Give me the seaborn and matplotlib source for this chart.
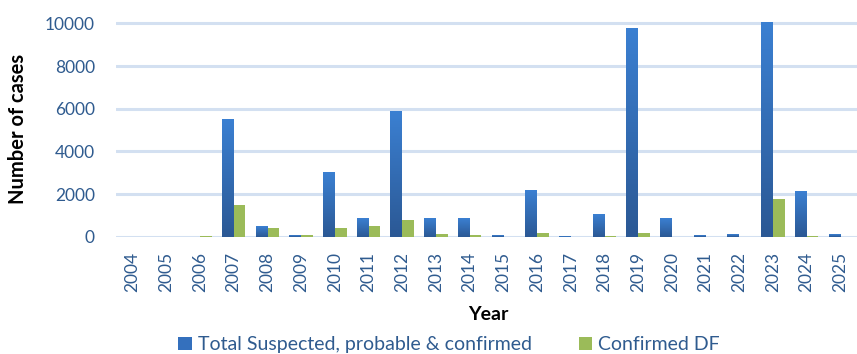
import numpy as np
import pandas as pd
import matplotlib
matplotlib.use("Agg")
import matplotlib.pyplot as plt
import seaborn as sns
from matplotlib.patches import Patch

years = ["2004", "2005", "2006", "2007", "2008", "2009", "2010", "2011", "2012", "2013", "2014",
         "2015", "2016", "2017", "2018", "2019", "2020", "2021", "2022", "2023", "2024", "2025"]
total_cases = [10, 10, 15, 5520, 500, 80, 3040, 880, 5900, 880, 880,
               80, 2190, 30, 1060, 9800, 880, 80, 125, 10050, 2150, 125]
confirmed_df = [10, 10, 30, 1500, 410, 70, 420, 490, 800, 140, 80,
                0, 170, 0, 20, 170, 0, 0, 0, 1770, 25, 0]
series_names = ["Total Suspected, probable & confirmed", "Confirmed DF"]
yticks = [0, 2000, 4000, 6000, 8000, 10000]

df = pd.DataFrame({
    "Year": years * 2,
    "Series": [series_names[0]] * len(years) + [series_names[1]] * len(years),
    "Cases": total_cases + confirmed_df,
})

sns.set_theme(style="white")
plt.rcParams["font.family"] = ["Lato", "DejaVu Sans"]

blue = "#3470bd"
green = "#9bbb59"
tick_color = "#2f5b8f"
grid_color = "#d3e0f1"

fig = plt.figure(figsize=(8.57, 3.54), dpi=100)
ax = fig.add_axes([0.135, 0.331, 0.870, 0.609])

sns.barplot(data=df, x="Year", y="Cases", hue="Series", hue_order=series_names,
            palette=[blue, green], width=0.7, gap=0, ax=ax, legend=False,
            saturation=1, edgecolor="none", linewidth=0, zorder=3)

# gradient on blue bars
grad = np.linspace(0, 1, 256).reshape(-1, 1)
cmap = matplotlib.colors.LinearSegmentedColormap.from_list("bg", ["#2b5894", "#3b80d2"])
n = len(years)
for p in list(ax.patches)[:n]:
    x0, y0 = p.get_x(), p.get_y()
    w, h = p.get_width(), p.get_height()
    if h <= 0:
        continue
    im = ax.imshow(grad, cmap=cmap, origin="lower", aspect="auto",
                   extent=[x0, x0 + w, y0, y0 + h], zorder=4)
    im.set_clip_path(p)

ax.set_xlim(-0.5, n - 0.38)
ax.set_ylim(0, 10100)
ax.set_yticks(yticks)
ax.set_yticklabels([str(v) for v in yticks])
ax.yaxis.grid(True, color=grid_color, linewidth=2.2, zorder=0)
ax.set_axisbelow(True)
for s in ax.spines.values():
    s.set_visible(False)

ax.tick_params(axis="y", length=0, pad=15, labelsize=12.5, labelcolor=tick_color)
ax.tick_params(axis="x", length=0, pad=11, labelsize=12.5, labelcolor=tick_color, rotation=90)

ax.set_xlabel("Year", fontsize=14, fontweight="bold", color="black", labelpad=10)
ax.set_ylabel("Number of cases", fontsize=14.5, fontweight="bold", color="black", labelpad=12)

handles = [Patch(facecolor=blue, edgecolor="none"), Patch(facecolor=green, edgecolor="none")]
fig.legend(handles, series_names, loc="center", bbox_to_anchor=(0.524, 0.026),
           ncol=2, frameon=False, fontsize=14, handlelength=0.7, handleheight=0.7,
           handletextpad=0.3, columnspacing=2.4, labelcolor=tick_color, borderpad=0)

fig.savefig("out.png", dpi=100)
